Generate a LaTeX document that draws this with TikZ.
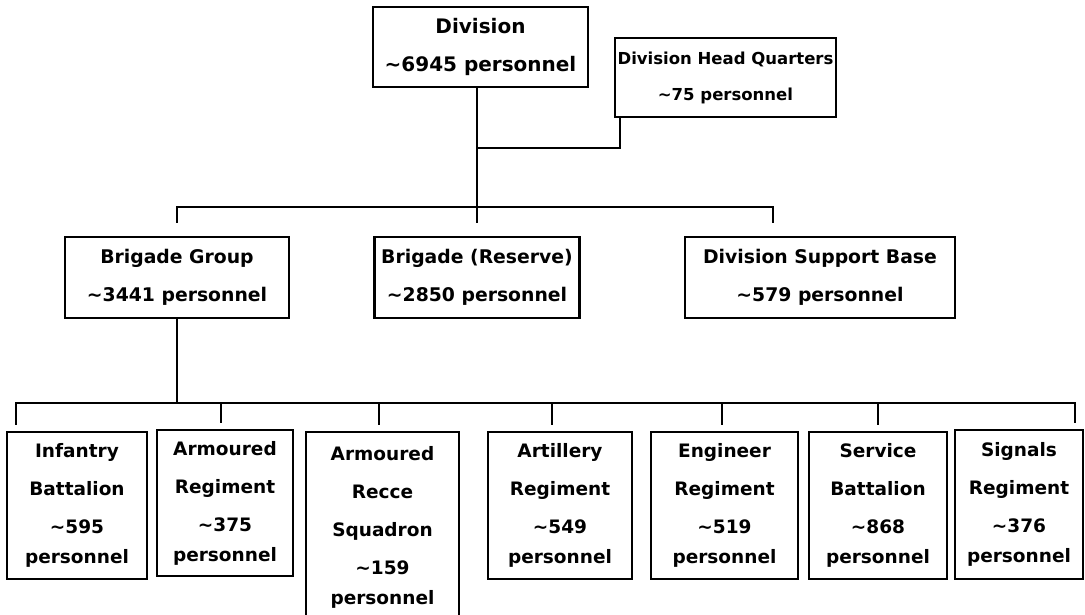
\documentclass[tikz,border=0pt]{standalone}
\usepackage{fontspec}
\setmainfont{DejaVu Sans}
\tikzset{
every picture/.style={x=1pt, y=-1pt},
unitbox/.style={draw, line width=2.8pt, inner sep=0pt, align=center},
divbox/.style={unitbox, font=\fontsize{20}{38}\selectfont\bfseries},
hqbox/.style={unitbox, font=\fontsize{16.5}{36}\selectfont\bfseries},
brigbox/.style={unitbox, minimum height=81pt, font=\fontsize{18.8}{38}\selectfont\bfseries},
subbox/.style={unitbox, minimum height=147pt, font=\fontsize{18.5}{38}\selectfont\bfseries},
link/.style={line width=2.6pt, line cap=rect},
drop/.style={link, shorten >=14pt},
subdrop/.style={link, shorten >=7pt}
}

\begin{document}
\begin{tikzpicture}
      \useasboundingbox (0,0) rectangle (1085,615);
      \node[divbox, minimum width=215pt, minimum height=80pt] (div) at (480.5,47) {Division\\\textasciitilde6945 personnel};
      \node[hqbox, minimum width=221pt, minimum height=79pt] (hq) at (725.5,77.5) {Division Head Quarters\\\textasciitilde75 personnel};

      \node[brigbox, minimum width=224pt] (bg) at (177,277.5) {Brigade Group\\\textasciitilde3441 personnel};
      \node[brigbox, minimum width=205pt] (br) at (477,277.5) {Brigade (Reserve)\\\textasciitilde2850 personnel};
      \node[brigbox, minimum width=270pt] (dsb) at (820,277.5) {Division Support Base\\\textasciitilde579 personnel};

      \node[subbox, minimum width=140pt] (inf) at (77,505.5) {Infantry\\Battalion\\\textasciitilde595\\[-8pt]personnel};
      \node[subbox, minimum width=136pt, minimum height=146pt] (arm) at (225,503) {Armoured\\Regiment\\\textasciitilde375\\[-8pt]personnel};
      \node[subbox, minimum width=153pt, minimum height=190pt] (rec) at (382.5,527) {Armoured\\Recce\\Squadron\\\textasciitilde159\\[-8pt]personnel};
      \node[subbox, minimum width=144pt] (art) at (560,505.5) {Artillery\\Regiment\\\textasciitilde549\\[-8pt]personnel};
      \node[subbox, minimum width=147pt] (eng) at (724.5,505.5) {Engineer\\Regiment\\\textasciitilde519\\[-8pt]personnel};
      \node[subbox, minimum width=138pt] (ser) at (878,505.5) {Service\\Battalion\\\textasciitilde868\\[-8pt]personnel};
      \node[subbox, minimum width=128pt, minimum height=149pt] (sig) at (1019,504.5) {Signals\\Regiment\\\textasciitilde376\\[-8pt]personnel};

      \coordinate (hqk) at (620,148);
      \draw[link] (hq.south -| hqk) -- (hqk) -- (hqk -| br.north);
      \draw[drop] (div.south -| br.north) -- (br.north);

      \coordinate (bus2) at (773,207);
      \draw[link] (bg.north |- bus2) -- (bus2);
      \draw[drop] (bg.north |- bus2) -- (bg.north);
      \draw[drop] (bus2) -- (bus2 |- dsb.north);

      \foreach \x/\n in {16/inf, 221/arm, 379/rec, 552/art, 722/eng, 878/ser, 1075/sig} {
        \coordinate (d\n) at (\x,403);
        \draw[subdrop] (d\n) -- (d\n |- \n.north);
      }
      \draw[link] (bg.south) -- (bg.south |- dinf);
      \draw[link] (dinf) -- (dsig);
    \end{tikzpicture}
\end{document}
